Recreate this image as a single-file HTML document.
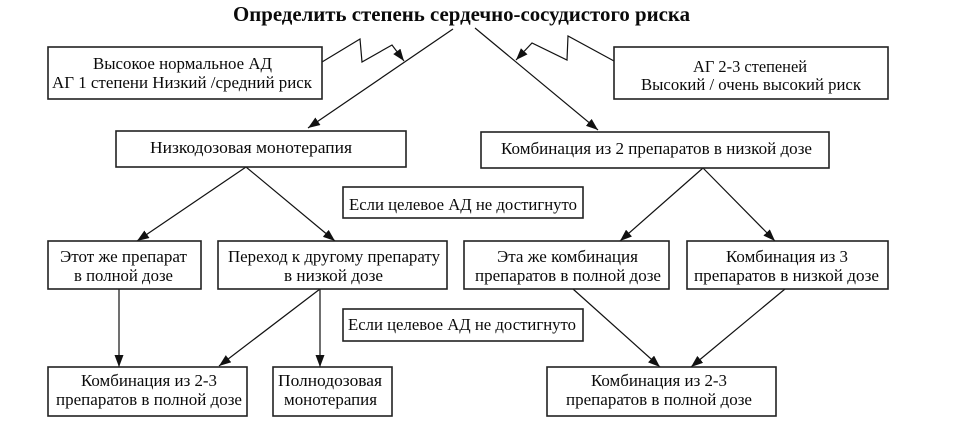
<!DOCTYPE html>
<html><head><meta charset="utf-8">
<style>
html,body{margin:0;padding:0;background:#fff;}
svg{display:block;}
text{font-family:"Liberation Serif","Noto Serif CJK SC",serif;font-size:17px;fill:#0a0a0a;}
.t{font-size:21px;font-weight:bold;}
rect{fill:#fff;stroke:#222;stroke-width:1.6;}
.l{stroke:#111;stroke-width:1.2;fill:none;}
</style></head>
<body>
<svg width="960" height="430" viewBox="0 0 960 430" xmlns="http://www.w3.org/2000/svg">
<defs>
<marker id="a" markerUnits="userSpaceOnUse" markerWidth="12" markerHeight="9" refX="12" refY="4.5" orient="auto">
<path d="M0,0 L12,4.5 L0,9 Z" fill="#111"/>
</marker>
</defs>

<text class="t" x="233" y="21" textLength="457" lengthAdjust="spacingAndGlyphs">Определить степень сердечно-сосудистого риска</text>

<!-- connectors -->
<line class="l" x1="453" y1="29" x2="308" y2="128" marker-end="url(#a)"/>
<line class="l" x1="475" y1="28" x2="598" y2="130" marker-end="url(#a)"/>
<polyline class="l" points="322,62 360,39 362,62 392,45 404,61" marker-end="url(#a)"/>
<polyline class="l" points="614,61 568,36 567,60 532,43 516,60" marker-end="url(#a)"/>

<line class="l" x1="246" y1="167" x2="137" y2="241" marker-end="url(#a)"/>
<line class="l" x1="246" y1="167" x2="335" y2="241" marker-end="url(#a)"/>
<line class="l" x1="703" y1="168" x2="620" y2="241" marker-end="url(#a)"/>
<line class="l" x1="703" y1="168" x2="775" y2="241" marker-end="url(#a)"/>

<line class="l" x1="119" y1="289" x2="119" y2="367" marker-end="url(#a)"/>
<line class="l" x1="320" y1="289" x2="320" y2="367" marker-end="url(#a)"/>
<line class="l" x1="320" y1="289" x2="219" y2="366" marker-end="url(#a)"/>
<line class="l" x1="573" y1="289" x2="660" y2="367" marker-end="url(#a)"/>
<line class="l" x1="785" y1="289" x2="691" y2="367" marker-end="url(#a)"/>

<!-- boxes -->
<rect x="48" y="47" width="274" height="52"/>
<text x="93" y="69" textLength="179" lengthAdjust="spacingAndGlyphs">Высокое нормальное АД</text>
<text x="52" y="88" textLength="260" lengthAdjust="spacingAndGlyphs">АГ 1 степени Низкий /средний риск</text>

<rect x="614" y="47" width="274" height="52"/>
<text x="693" y="72" textLength="114" lengthAdjust="spacingAndGlyphs">АГ 2-3 степеней</text>
<text x="641" y="90" textLength="220" lengthAdjust="spacingAndGlyphs">Высокий / очень высокий риск</text>

<rect x="116" y="131" width="290" height="36"/>
<text x="150" y="153" textLength="202" lengthAdjust="spacingAndGlyphs">Низкодозовая монотерапия</text>

<rect x="481" y="132" width="348" height="36"/>
<text x="501" y="154" textLength="311" lengthAdjust="spacingAndGlyphs">Комбинация из 2 препаратов в низкой дозе</text>

<rect x="343" y="187" width="240" height="31"/>
<text x="349" y="210" textLength="228" lengthAdjust="spacingAndGlyphs">Если целевое АД не достигнуто</text>

<rect x="48" y="241" width="153" height="48"/>
<text x="60" y="262" textLength="127" lengthAdjust="spacingAndGlyphs">Этот же препарат</text>
<text x="74" y="281" textLength="99" lengthAdjust="spacingAndGlyphs">в полной дозе</text>

<rect x="218" y="241" width="229" height="48"/>
<text x="228" y="262" textLength="212" lengthAdjust="spacingAndGlyphs">Переход к другому препарату</text>
<text x="284" y="281" textLength="99" lengthAdjust="spacingAndGlyphs">в низкой дозе</text>

<rect x="464" y="241" width="205" height="48"/>
<text x="497" y="262" textLength="141" lengthAdjust="spacingAndGlyphs">Эта же комбинация</text>
<text x="475" y="281" textLength="186" lengthAdjust="spacingAndGlyphs">препаратов в полной дозе</text>

<rect x="687" y="241" width="201" height="48"/>
<text x="726" y="262" textLength="122" lengthAdjust="spacingAndGlyphs">Комбинация из 3</text>
<text x="694" y="281" textLength="185" lengthAdjust="spacingAndGlyphs">препаратов в низкой дозе</text>

<rect x="343" y="309" width="240" height="32"/>
<text x="348" y="330" textLength="228" lengthAdjust="spacingAndGlyphs">Если целевое АД не достигнуто</text>

<rect x="48" y="367" width="199" height="49"/>
<text x="81" y="386" textLength="136" lengthAdjust="spacingAndGlyphs">Комбинация из 2-3</text>
<text x="56" y="405" textLength="186" lengthAdjust="spacingAndGlyphs">препаратов в полной дозе</text>

<rect x="273" y="367" width="119" height="49"/>
<text x="278" y="386" textLength="104" lengthAdjust="spacingAndGlyphs">Полнодозовая</text>
<text x="284" y="405" textLength="93" lengthAdjust="spacingAndGlyphs">монотерапия</text>

<rect x="547" y="367" width="229" height="49"/>
<text x="591" y="386" textLength="136" lengthAdjust="spacingAndGlyphs">Комбинация из 2-3</text>
<text x="566" y="405" textLength="186" lengthAdjust="spacingAndGlyphs">препаратов в полной дозе</text>
</svg>
</body></html>
